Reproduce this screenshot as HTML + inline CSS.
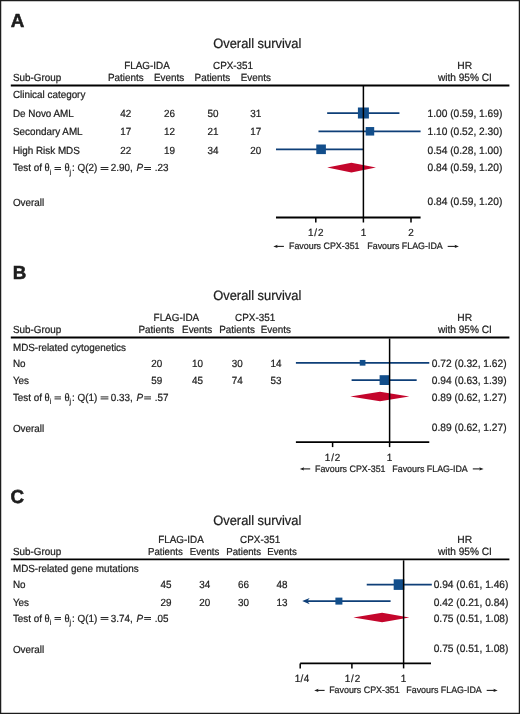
<!DOCTYPE html>
<html><head><meta charset="utf-8"><style>
html,body{margin:0;padding:0;background:#fff;}
body{width:520px;height:714px;overflow:hidden;}
svg{display:block;will-change:transform;}
svg text{font-family:"Liberation Sans", sans-serif;fill:#1e1e1e;text-rendering:geometricPrecision;stroke:#1e1e1e;stroke-width:0.22px;}
</style></head><body>
<svg width="520" height="714" viewBox="0 0 520 714">
<rect x="0.5" y="0.5" width="519" height="713" fill="#fff" stroke="#1c1c1c" stroke-width="1.5"/>
<text transform="translate(10.80 26.90) scale(1 1.0)" font-size="18.8" text-anchor="start" font-weight="bold" style="stroke-width:0.55px">A</text>
<text transform="translate(213.20 48.00) scale(1 1.05)" font-size="12.9" text-anchor="start" font-weight="normal" >Overall survival</text>
<text transform="translate(124.20 68.80) scale(1 1.05)" font-size="9.9" text-anchor="start" font-weight="normal" >FLAG-IDA</text>
<text transform="translate(213.00 68.80) scale(1 1.05)" font-size="9.9" text-anchor="start" font-weight="normal" >CPX-351</text>
<text transform="translate(464.80 69.00) scale(1 1.0)" font-size="10.3" text-anchor="middle" font-weight="normal" >HR</text>
<text transform="translate(12.90 81.00) scale(1 1.05)" font-size="9.9" text-anchor="start" font-weight="normal" >Sub-Group</text>
<text transform="translate(107.90 81.00) scale(1 1.05)" font-size="9.9" text-anchor="start" font-weight="normal" >Patients</text>
<text transform="translate(154.00 81.00) scale(1 1.05)" font-size="9.9" text-anchor="start" font-weight="normal" >Events</text>
<text transform="translate(194.60 81.00) scale(1 1.05)" font-size="9.9" text-anchor="start" font-weight="normal" >Patients</text>
<text transform="translate(240.70 81.00) scale(1 1.05)" font-size="9.9" text-anchor="start" font-weight="normal" >Events</text>
<text transform="translate(464.90 81.00) scale(1 1.05)" font-size="10.15" text-anchor="middle" font-weight="normal" >with 95% CI</text>
<line x1="10.8" y1="85.45" x2="509.4" y2="85.45" stroke="#000" stroke-width="1.9"/>
<text transform="translate(12.90 98.40) scale(1 1.05)" font-size="9.9" text-anchor="start" font-weight="normal" >Clinical category</text>
<text transform="translate(12.90 117.00) scale(1 1.05)" font-size="9.9" text-anchor="start" font-weight="normal" >De Novo AML</text>
<text transform="translate(125.80 117.00) scale(1 1.05)" font-size="9.9" text-anchor="middle" font-weight="normal" >42</text>
<text transform="translate(169.40 117.00) scale(1 1.05)" font-size="9.9" text-anchor="middle" font-weight="normal" >26</text>
<text transform="translate(212.90 117.00) scale(1 1.05)" font-size="9.9" text-anchor="middle" font-weight="normal" >50</text>
<text transform="translate(255.80 117.00) scale(1 1.05)" font-size="9.9" text-anchor="middle" font-weight="normal" >31</text>
<text transform="translate(502.30 117.00) scale(1 1.05)" font-size="10.2" text-anchor="end" font-weight="normal" >1.00 (0.59, 1.69)</text>
<line x1="327.1662545163467" y1="113" x2="399.43430653375503" y2="113" stroke="#0e3f78" stroke-width="1.75"/>
<rect x="357.90" y="107.50" width="11" height="11" fill="#124e8b"/>
<text transform="translate(12.90 135.30) scale(1 1.05)" font-size="9.9" text-anchor="start" font-weight="normal" >Secondary AML</text>
<text transform="translate(125.80 135.30) scale(1 1.05)" font-size="9.9" text-anchor="middle" font-weight="normal" >17</text>
<text transform="translate(169.40 135.30) scale(1 1.05)" font-size="9.9" text-anchor="middle" font-weight="normal" >12</text>
<text transform="translate(212.90 135.30) scale(1 1.05)" font-size="9.9" text-anchor="middle" font-weight="normal" >21</text>
<text transform="translate(255.80 135.30) scale(1 1.05)" font-size="9.9" text-anchor="middle" font-weight="normal" >17</text>
<text transform="translate(502.30 135.30) scale(1 1.05)" font-size="10.2" text-anchor="end" font-weight="normal" >1.10 (0.52, 2.30)</text>
<line x1="318.49337595023906" y1="131.3" x2="420.5977717916753" y2="131.3" stroke="#0e3f78" stroke-width="1.75"/>
<rect x="365.70" y="127.05" width="8.5" height="8.5" fill="#124e8b"/>
<text transform="translate(12.90 153.60) scale(1 1.05)" font-size="9.9" text-anchor="start" font-weight="normal" >High Risk MDS</text>
<text transform="translate(125.80 153.60) scale(1 1.05)" font-size="9.9" text-anchor="middle" font-weight="normal" >22</text>
<text transform="translate(169.40 153.60) scale(1 1.05)" font-size="9.9" text-anchor="middle" font-weight="normal" >19</text>
<text transform="translate(212.90 153.60) scale(1 1.05)" font-size="9.9" text-anchor="middle" font-weight="normal" >34</text>
<text transform="translate(255.80 153.60) scale(1 1.05)" font-size="9.9" text-anchor="middle" font-weight="normal" >20</text>
<text transform="translate(502.30 153.60) scale(1 1.05)" font-size="10.2" text-anchor="end" font-weight="normal" >0.54 (0.28, 1.00)</text>
<line x1="275.98253965666504" y1="149.3" x2="363.4" y2="149.3" stroke="#0e3f78" stroke-width="1.75"/>
<rect x="316.29" y="144.50" width="9.6" height="9.6" fill="#124e8b"/>
<text transform="translate(12.90 171.30) scale(1 1.05)" font-size="9.9" text-anchor="start" font-weight="normal" >Test of</text>
<text transform="translate(44.60 171.30) scale(1 1.05)" font-size="10.6" text-anchor="start" font-weight="normal" font-family="Liberation Serif" style="font-family:Liberation Serif">θ</text>
<text transform="translate(49.80 174.50) scale(1 1.05)" font-size="6.8" text-anchor="start" font-weight="normal" >i</text>
<line x1="54.5" y1="167.5" x2="61.0" y2="167.5" stroke="#1e1e1e" stroke-width="0.95"/>
<line x1="54.5" y1="169.5" x2="61.0" y2="169.5" stroke="#1e1e1e" stroke-width="0.95"/>
<text transform="translate(64.60 171.30) scale(1 1.05)" font-size="10.6" text-anchor="start" font-weight="normal" font-family="Liberation Serif" style="font-family:Liberation Serif">θ</text>
<text transform="translate(69.40 174.50) scale(1 1.05)" font-size="6.8" text-anchor="start" font-weight="normal" >j</text>
<text transform="translate(72.00 171.30) scale(1 1.05)" font-size="9.9" text-anchor="start" font-weight="normal" >: Q(2)</text>
<line x1="100.6" y1="167.5" x2="108.4" y2="167.5" stroke="#1e1e1e" stroke-width="0.95"/>
<line x1="100.6" y1="169.5" x2="108.4" y2="169.5" stroke="#1e1e1e" stroke-width="0.95"/>
<text transform="translate(110.80 171.30) scale(1 1.05)" font-size="9.9" text-anchor="start" font-weight="normal" >2.90,</text>
<text transform="translate(136.60 171.30) scale(1 1.05)" font-size="9.9" text-anchor="start" font-weight="normal" font-style="italic" style="font-style:italic">P</text>
<line x1="144.2" y1="167.5" x2="151.0" y2="167.5" stroke="#1e1e1e" stroke-width="0.95"/>
<line x1="144.2" y1="169.5" x2="151.0" y2="169.5" stroke="#1e1e1e" stroke-width="0.95"/>
<text transform="translate(154.70 171.30) scale(1 1.05)" font-size="9.9" text-anchor="start" font-weight="normal" >.23</text>
<text transform="translate(502.30 171.30) scale(1 1.05)" font-size="10.2" text-anchor="end" font-weight="normal" >0.84 (0.59, 1.20)</text>
<polygon points="327.17,167.6 351.43,162.79999999999998 375.92,167.6 351.43,172.4" fill="#c4062c"/>
<text transform="translate(12.90 206.00) scale(1 1.05)" font-size="9.9" text-anchor="start" font-weight="normal" >Overall</text>
<text transform="translate(502.30 205.10) scale(1 1.05)" font-size="10.2" text-anchor="end" font-weight="normal" >0.84 (0.59, 1.20)</text>
<line x1="363.4" y1="86" x2="363.4" y2="217.5" stroke="#000" stroke-width="1.5"/>
<line x1="275.98253965666504" y1="217.5" x2="420.5977717916753" y2="217.5" stroke="#000" stroke-width="1.9"/>
<line x1="315.79999999999995" y1="217.5" x2="315.79999999999995" y2="222.5" stroke="#000" stroke-width="1.5"/>
<text transform="translate(316.20 236.30) scale(1 1.05)" font-size="9.9" text-anchor="middle" font-weight="normal" letter-spacing="0.9">1/2</text>
<line x1="363.4" y1="217.5" x2="363.4" y2="222.5" stroke="#000" stroke-width="1.5"/>
<text transform="translate(363.40 236.30) scale(1 1.05)" font-size="9.9" text-anchor="middle" font-weight="normal" >1</text>
<line x1="411.0" y1="217.5" x2="411.0" y2="222.5" stroke="#000" stroke-width="1.5"/>
<text transform="translate(411.00 236.30) scale(1 1.05)" font-size="9.9" text-anchor="middle" font-weight="normal" >2</text>
<line x1="275.8" y1="246.4" x2="283.9" y2="246.4" stroke="#1e1e1e" stroke-width="1.1"/>
<polygon points="273.3,246.4 277.6,244.70000000000002 276.90000000000003,246.4 277.6,248.1" fill="#1e1e1e"/>
<text transform="translate(289.00 249.00) scale(1 1.05)" font-size="8.9" text-anchor="start" font-weight="normal" >Favours CPX-351</text>
<text transform="translate(367.30 249.00) scale(1 1.05)" font-size="8.9" text-anchor="start" font-weight="normal" >Favours FLAG-IDA</text>
<line x1="447.7" y1="246.4" x2="456.4" y2="246.4" stroke="#1e1e1e" stroke-width="1.1"/>
<polygon points="458.9,246.4 454.59999999999997,244.70000000000002 455.29999999999995,246.4 454.59999999999997,248.1" fill="#1e1e1e"/>
<text transform="translate(12.80 278.80) scale(1 1.0)" font-size="18.8" text-anchor="start" font-weight="bold" style="stroke-width:0.55px">B</text>
<text transform="translate(213.20 300.30) scale(1 1.05)" font-size="12.9" text-anchor="start" font-weight="normal" >Overall survival</text>
<text transform="translate(153.60 320.60) scale(1 1.05)" font-size="9.9" text-anchor="start" font-weight="normal" >FLAG-IDA</text>
<text transform="translate(235.10 320.60) scale(1 1.05)" font-size="9.9" text-anchor="start" font-weight="normal" >CPX-351</text>
<text transform="translate(464.80 320.80) scale(1 1.0)" font-size="10.3" text-anchor="middle" font-weight="normal" >HR</text>
<text transform="translate(12.90 333.20) scale(1 1.05)" font-size="9.9" text-anchor="start" font-weight="normal" >Sub-Group</text>
<text transform="translate(138.40 333.20) scale(1 1.05)" font-size="9.9" text-anchor="start" font-weight="normal" >Patients</text>
<text transform="translate(182.10 333.20) scale(1 1.05)" font-size="9.9" text-anchor="start" font-weight="normal" >Events</text>
<text transform="translate(219.20 333.20) scale(1 1.05)" font-size="9.9" text-anchor="start" font-weight="normal" >Patients</text>
<text transform="translate(260.70 333.20) scale(1 1.05)" font-size="9.9" text-anchor="start" font-weight="normal" >Events</text>
<text transform="translate(464.90 333.20) scale(1 1.05)" font-size="10.15" text-anchor="middle" font-weight="normal" >with 95% CI</text>
<line x1="10.8" y1="337.55" x2="509.4" y2="337.55" stroke="#000" stroke-width="1.9"/>
<text transform="translate(12.90 350.60) scale(1 1.05)" font-size="9.9" text-anchor="start" font-weight="normal" >MDS-related cytogenetics</text>
<text transform="translate(12.90 367.30) scale(1 1.05)" font-size="9.9" text-anchor="start" font-weight="normal" >No</text>
<text transform="translate(156.70 367.30) scale(1 1.05)" font-size="9.9" text-anchor="middle" font-weight="normal" >20</text>
<text transform="translate(197.40 367.30) scale(1 1.05)" font-size="9.9" text-anchor="middle" font-weight="normal" >10</text>
<text transform="translate(237.30 367.30) scale(1 1.05)" font-size="9.9" text-anchor="middle" font-weight="normal" >30</text>
<text transform="translate(276.10 367.30) scale(1 1.05)" font-size="9.9" text-anchor="middle" font-weight="normal" >14</text>
<text transform="translate(506.60 367.30) scale(1 1.05)" font-size="10.2" text-anchor="end" font-weight="normal" >0.72 (0.32, 1.62)</text>
<line x1="295.9001971828407" y1="362.8" x2="429.2716473472643" y2="362.8" stroke="#0e3f78" stroke-width="1.75"/>
<rect x="359.74" y="359.95" width="5.7" height="5.7" fill="#124e8b"/>
<text transform="translate(12.90 383.80) scale(1 1.05)" font-size="9.9" text-anchor="start" font-weight="normal" >Yes</text>
<text transform="translate(156.70 383.80) scale(1 1.05)" font-size="9.9" text-anchor="middle" font-weight="normal" >59</text>
<text transform="translate(197.40 383.80) scale(1 1.05)" font-size="9.9" text-anchor="middle" font-weight="normal" >45</text>
<text transform="translate(237.30 383.80) scale(1 1.05)" font-size="9.9" text-anchor="middle" font-weight="normal" >74</text>
<text transform="translate(276.10 383.80) scale(1 1.05)" font-size="9.9" text-anchor="middle" font-weight="normal" >53</text>
<text transform="translate(506.60 383.80) scale(1 1.05)" font-size="10.2" text-anchor="end" font-weight="normal" >0.94 (0.63, 1.39)</text>
<line x1="351.605152822336" y1="380.1" x2="416.6798383280806" y2="380.1" stroke="#0e3f78" stroke-width="1.75"/>
<rect x="379.61" y="375.20" width="9.8" height="9.8" fill="#124e8b"/>
<text transform="translate(12.90 401.20) scale(1 1.05)" font-size="9.9" text-anchor="start" font-weight="normal" >Test of</text>
<text transform="translate(44.60 401.20) scale(1 1.05)" font-size="10.6" text-anchor="start" font-weight="normal" font-family="Liberation Serif" style="font-family:Liberation Serif">θ</text>
<text transform="translate(49.80 404.40) scale(1 1.05)" font-size="6.8" text-anchor="start" font-weight="normal" >i</text>
<line x1="54.5" y1="396.9" x2="61.0" y2="396.9" stroke="#1e1e1e" stroke-width="0.95"/>
<line x1="54.5" y1="398.9" x2="61.0" y2="398.9" stroke="#1e1e1e" stroke-width="0.95"/>
<text transform="translate(64.60 401.20) scale(1 1.05)" font-size="10.6" text-anchor="start" font-weight="normal" font-family="Liberation Serif" style="font-family:Liberation Serif">θ</text>
<text transform="translate(69.40 404.40) scale(1 1.05)" font-size="6.8" text-anchor="start" font-weight="normal" >j</text>
<text transform="translate(72.00 401.20) scale(1 1.05)" font-size="9.9" text-anchor="start" font-weight="normal" >: Q(1)</text>
<line x1="100.6" y1="396.9" x2="108.4" y2="396.9" stroke="#1e1e1e" stroke-width="0.95"/>
<line x1="100.6" y1="398.9" x2="108.4" y2="398.9" stroke="#1e1e1e" stroke-width="0.95"/>
<text transform="translate(110.80 401.20) scale(1 1.05)" font-size="9.9" text-anchor="start" font-weight="normal" >0.33,</text>
<text transform="translate(136.60 401.20) scale(1 1.05)" font-size="9.9" text-anchor="start" font-weight="normal" font-style="italic" style="font-style:italic">P</text>
<line x1="144.2" y1="396.9" x2="151.0" y2="396.9" stroke="#1e1e1e" stroke-width="0.95"/>
<line x1="144.2" y1="398.9" x2="151.0" y2="398.9" stroke="#1e1e1e" stroke-width="0.95"/>
<text transform="translate(154.70 401.20) scale(1 1.05)" font-size="9.9" text-anchor="start" font-weight="normal" >.57</text>
<text transform="translate(506.60 401.20) scale(1 1.05)" font-size="10.2" text-anchor="end" font-weight="normal" >0.89 (0.62, 1.27)</text>
<polygon points="350.29,396.6 380.02,391.85 409.26,396.6 380.02,401.35" fill="#c4062c"/>
<text transform="translate(12.90 432.10) scale(1 1.05)" font-size="9.9" text-anchor="start" font-weight="normal" >Overall</text>
<text transform="translate(506.60 430.60) scale(1 1.05)" font-size="10.2" text-anchor="end" font-weight="normal" >0.89 (0.62, 1.27)</text>
<line x1="389.6" y1="338.5" x2="389.6" y2="442.1" stroke="#000" stroke-width="1.5"/>
<line x1="295.9001971828407" y1="442.1" x2="429.2716473472643" y2="442.1" stroke="#000" stroke-width="1.9"/>
<line x1="332.6" y1="442.1" x2="332.6" y2="447.1" stroke="#000" stroke-width="1.5"/>
<text transform="translate(333.00 460.90) scale(1 1.05)" font-size="9.9" text-anchor="middle" font-weight="normal" letter-spacing="0.9">1/2</text>
<line x1="389.6" y1="442.1" x2="389.6" y2="447.1" stroke="#000" stroke-width="1.5"/>
<text transform="translate(389.60 460.90) scale(1 1.05)" font-size="9.9" text-anchor="middle" font-weight="normal" >1</text>
<line x1="302.3" y1="468.9" x2="310.2" y2="468.9" stroke="#1e1e1e" stroke-width="1.1"/>
<polygon points="299.8,468.9 304.1,467.2 303.40000000000003,468.9 304.1,470.59999999999997" fill="#1e1e1e"/>
<text transform="translate(315.00 471.50) scale(1 1.05)" font-size="8.9" text-anchor="start" font-weight="normal" >Favours CPX-351</text>
<text transform="translate(392.30 471.50) scale(1 1.05)" font-size="8.9" text-anchor="start" font-weight="normal" >Favours FLAG-IDA</text>
<line x1="472.8" y1="468.9" x2="481.1" y2="468.9" stroke="#1e1e1e" stroke-width="1.1"/>
<polygon points="483.6,468.9 479.3,467.2 480.0,468.9 479.3,470.59999999999997" fill="#1e1e1e"/>
<text transform="translate(10.60 503.30) scale(1 1.0)" font-size="18.8" text-anchor="start" font-weight="bold" style="stroke-width:0.55px">C</text>
<text transform="translate(213.20 525.30) scale(1 1.05)" font-size="12.9" text-anchor="start" font-weight="normal" >Overall survival</text>
<text transform="translate(158.20 542.50) scale(1 1.05)" font-size="9.9" text-anchor="start" font-weight="normal" >FLAG-IDA</text>
<text transform="translate(240.10 542.50) scale(1 1.05)" font-size="9.9" text-anchor="start" font-weight="normal" >CPX-351</text>
<text transform="translate(464.80 542.70) scale(1 1.0)" font-size="10.3" text-anchor="middle" font-weight="normal" >HR</text>
<text transform="translate(12.90 554.50) scale(1 1.05)" font-size="9.9" text-anchor="start" font-weight="normal" >Sub-Group</text>
<text transform="translate(148.00 554.50) scale(1 1.05)" font-size="9.65" text-anchor="start" font-weight="normal" >Patients</text>
<text transform="translate(189.80 554.50) scale(1 1.05)" font-size="9.65" text-anchor="start" font-weight="normal" >Events</text>
<text transform="translate(226.30 554.50) scale(1 1.05)" font-size="9.65" text-anchor="start" font-weight="normal" >Patients</text>
<text transform="translate(267.30 554.50) scale(1 1.05)" font-size="9.65" text-anchor="start" font-weight="normal" >Events</text>
<text transform="translate(464.90 554.50) scale(1 1.05)" font-size="10.15" text-anchor="middle" font-weight="normal" >with 95% CI</text>
<line x1="10.8" y1="559.4" x2="509.4" y2="559.4" stroke="#000" stroke-width="1.9"/>
<text transform="translate(12.90 572.00) scale(1 1.05)" font-size="9.9" text-anchor="start" font-weight="normal" >MDS-related gene mutations</text>
<text transform="translate(12.90 588.40) scale(1 1.05)" font-size="9.9" text-anchor="start" font-weight="normal" >No</text>
<text transform="translate(166.00 588.40) scale(1 1.05)" font-size="9.9" text-anchor="middle" font-weight="normal" >45</text>
<text transform="translate(204.80 588.40) scale(1 1.05)" font-size="9.9" text-anchor="middle" font-weight="normal" >34</text>
<text transform="translate(243.40 588.40) scale(1 1.05)" font-size="9.9" text-anchor="middle" font-weight="normal" >66</text>
<text transform="translate(282.00 588.40) scale(1 1.05)" font-size="9.9" text-anchor="middle" font-weight="normal" >48</text>
<text transform="translate(508.40 588.40) scale(1 1.05)" font-size="10.2" text-anchor="end" font-weight="normal" >0.94 (0.61, 1.46)</text>
<line x1="366.73175534064796" y1="584.6" x2="431.82656468274365" y2="584.6" stroke="#0e3f78" stroke-width="1.75"/>
<rect x="393.68" y="579.30" width="10.6" height="10.6" fill="#124e8b"/>
<text transform="translate(12.90 605.60) scale(1 1.05)" font-size="9.9" text-anchor="start" font-weight="normal" >Yes</text>
<text transform="translate(166.00 605.60) scale(1 1.05)" font-size="9.9" text-anchor="middle" font-weight="normal" >29</text>
<text transform="translate(204.80 605.60) scale(1 1.05)" font-size="9.9" text-anchor="middle" font-weight="normal" >20</text>
<text transform="translate(243.40 605.60) scale(1 1.05)" font-size="9.9" text-anchor="middle" font-weight="normal" >30</text>
<text transform="translate(282.00 605.60) scale(1 1.05)" font-size="9.9" text-anchor="middle" font-weight="normal" >13</text>
<text transform="translate(508.40 605.60) scale(1 1.05)" font-size="10.2" text-anchor="end" font-weight="normal" >0.42 (0.21, 0.84)</text>
<line x1="305.20000000000005" y1="601.1" x2="390.59544574630866" y2="601.1" stroke="#0e3f78" stroke-width="1.75"/>
<polygon points="302.20,601.1 309.70,598.0 307.40,601.1 309.70,604.2" fill="#0e3f78"/>
<rect x="335.40" y="597.60" width="7" height="7" fill="#124e8b"/>
<text transform="translate(12.90 621.60) scale(1 1.05)" font-size="9.9" text-anchor="start" font-weight="normal" >Test of</text>
<text transform="translate(44.60 621.60) scale(1 1.05)" font-size="10.6" text-anchor="start" font-weight="normal" font-family="Liberation Serif" style="font-family:Liberation Serif">θ</text>
<text transform="translate(49.80 624.80) scale(1 1.05)" font-size="6.8" text-anchor="start" font-weight="normal" >i</text>
<line x1="54.5" y1="617.5" x2="61.0" y2="617.5" stroke="#1e1e1e" stroke-width="0.95"/>
<line x1="54.5" y1="619.4" x2="61.0" y2="619.4" stroke="#1e1e1e" stroke-width="0.95"/>
<text transform="translate(64.60 621.60) scale(1 1.05)" font-size="10.6" text-anchor="start" font-weight="normal" font-family="Liberation Serif" style="font-family:Liberation Serif">θ</text>
<text transform="translate(69.40 624.80) scale(1 1.05)" font-size="6.8" text-anchor="start" font-weight="normal" >j</text>
<text transform="translate(72.00 621.60) scale(1 1.05)" font-size="9.9" text-anchor="start" font-weight="normal" >: Q(1)</text>
<line x1="100.6" y1="617.5" x2="108.4" y2="617.5" stroke="#1e1e1e" stroke-width="0.95"/>
<line x1="100.6" y1="619.4" x2="108.4" y2="619.4" stroke="#1e1e1e" stroke-width="0.95"/>
<text transform="translate(110.80 621.60) scale(1 1.05)" font-size="9.9" text-anchor="start" font-weight="normal" >3.74,</text>
<text transform="translate(136.60 621.60) scale(1 1.05)" font-size="9.9" text-anchor="start" font-weight="normal" font-style="italic" style="font-style:italic">P</text>
<line x1="144.2" y1="617.5" x2="151.0" y2="617.5" stroke="#1e1e1e" stroke-width="0.95"/>
<line x1="144.2" y1="619.4" x2="151.0" y2="619.4" stroke="#1e1e1e" stroke-width="0.95"/>
<text transform="translate(154.70 621.60) scale(1 1.05)" font-size="9.9" text-anchor="start" font-weight="normal" >.05</text>
<text transform="translate(508.40 621.60) scale(1 1.05)" font-size="10.2" text-anchor="end" font-weight="normal" >0.75 (0.51, 1.08)</text>
<polygon points="353.38,617.5 382.14,612.75 409.34,617.5 382.14,622.25" fill="#c4062c"/>
<text transform="translate(12.90 652.80) scale(1 1.05)" font-size="9.9" text-anchor="start" font-weight="normal" >Overall</text>
<text transform="translate(508.40 652.10) scale(1 1.05)" font-size="10.2" text-anchor="end" font-weight="normal" >0.75 (0.51, 1.08)</text>
<line x1="403.6" y1="560.3" x2="403.6" y2="663.4" stroke="#000" stroke-width="1.5"/>
<line x1="300.20000000000005" y1="663.4" x2="431.0" y2="663.4" stroke="#000" stroke-width="1.9"/>
<line x1="300.20000000000005" y1="663.4" x2="300.20000000000005" y2="668.4" stroke="#000" stroke-width="1.5"/>
<text transform="translate(302.20 681.60) scale(1 1.05)" font-size="9.9" text-anchor="middle" font-weight="normal" letter-spacing="0.4">1/4</text>
<line x1="351.90000000000003" y1="663.4" x2="351.90000000000003" y2="668.4" stroke="#000" stroke-width="1.5"/>
<text transform="translate(352.90 681.60) scale(1 1.05)" font-size="9.9" text-anchor="middle" font-weight="normal" letter-spacing="0.9">1/2</text>
<line x1="403.6" y1="663.4" x2="403.6" y2="668.4" stroke="#000" stroke-width="1.5"/>
<text transform="translate(403.60 681.60) scale(1 1.05)" font-size="9.9" text-anchor="middle" font-weight="normal" >1</text>
<line x1="316.7" y1="690.4" x2="324.6" y2="690.4" stroke="#1e1e1e" stroke-width="1.1"/>
<polygon points="314.2,690.4 318.5,688.6999999999999 317.8,690.4 318.5,692.1" fill="#1e1e1e"/>
<text transform="translate(329.20 693.00) scale(1 1.05)" font-size="8.9" text-anchor="start" font-weight="normal" >Favours CPX-351</text>
<text transform="translate(406.30 693.00) scale(1 1.05)" font-size="8.9" text-anchor="start" font-weight="normal" >Favours FLAG-IDA</text>
<line x1="486.7" y1="690.4" x2="495.2" y2="690.4" stroke="#1e1e1e" stroke-width="1.1"/>
<polygon points="497.7,690.4 493.4,688.6999999999999 494.09999999999997,690.4 493.4,692.1" fill="#1e1e1e"/>
</svg>
</body></html>
